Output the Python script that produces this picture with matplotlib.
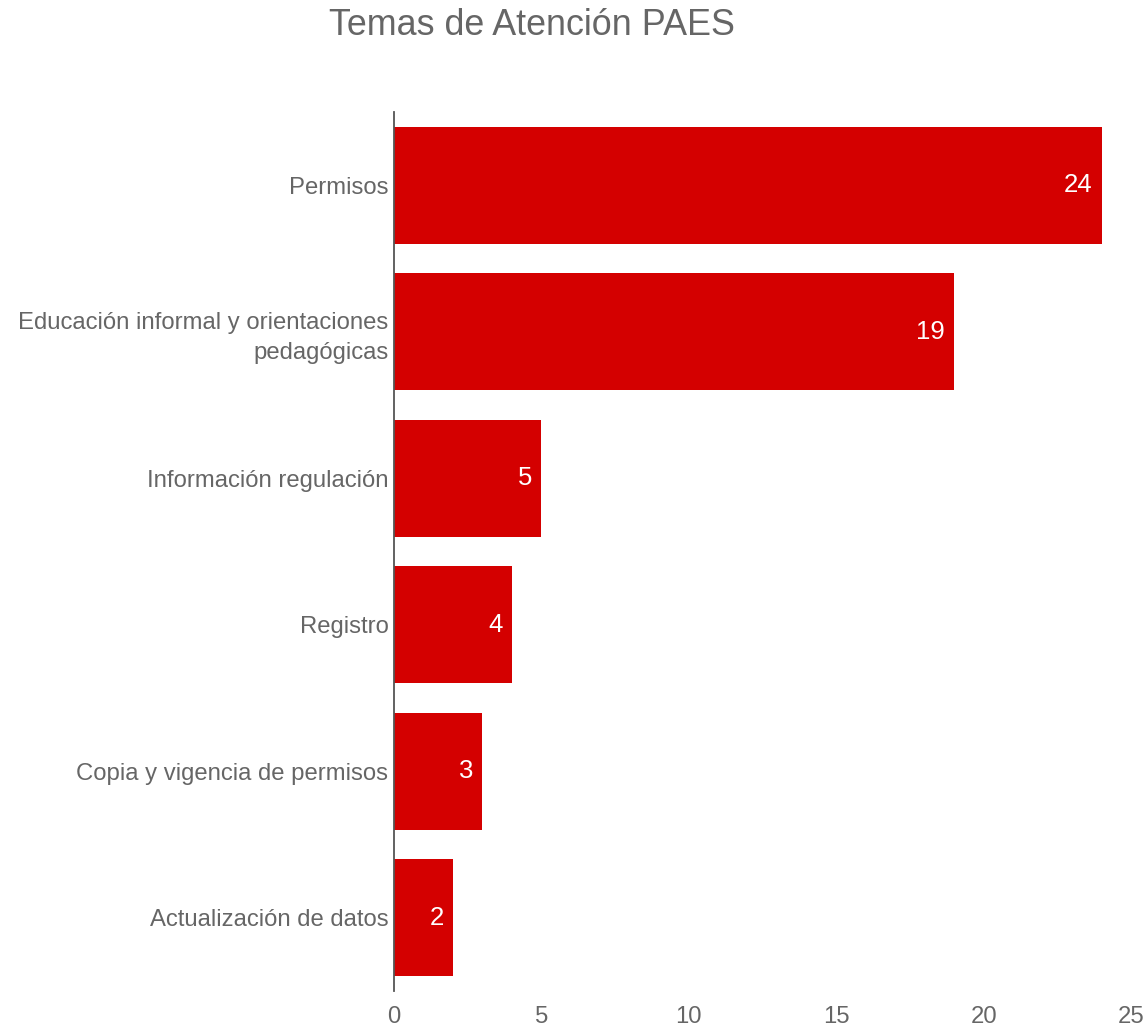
import matplotlib.pyplot as plt

plt.rcParams['font.family'] = ['Liberation Sans', 'DejaVu Sans']

temas = [
    "Permisos",
    "Educación informal y orientaciones\npedagógicas",
    "Información regulación",
    "Registro",
    "Copia y vigencia de permisos",
    "Actualización de datos",
]
valores = [24, 19, 5, 4, 3, 2]

BAR_COLOR = '#d40000'
TEXT_COLOR = '#666666'

fig = plt.figure(figsize=(11.48, 10.29), dpi=100)
ax = fig.add_axes([0.3432, 0.0369, 0.642, 0.8543])

pos = list(range(len(temas)))
bars = ax.barh(pos, valores, height=0.8, color=BAR_COLOR)
ax.set_ylim(len(temas) - 0.5, -0.5)
ax.set_xlim(0, 25)

for b, v in zip(bars, valores):
    ax.annotate(str(v), (b.get_width(), b.get_y() + b.get_height() / 2),
                xytext=(-6.5, 0), textcoords='offset points',
                ha='right', va='center', color='white', fontsize=18.5)

ax.set_yticks(pos)
ax.set_yticklabels(temas, fontsize=17.2, color=TEXT_COLOR, linespacing=1.45)
ax.set_xticks([0, 5, 10, 15, 20, 25])
ax.tick_params(axis='x', labelsize=17.2, labelcolor=TEXT_COLOR, length=0, pad=11)
ax.tick_params(axis='y', length=0, pad=4)

for s in ['top', 'right', 'bottom']:
    ax.spines[s].set_visible(False)
ax.spines['left'].set_color('#555555')
ax.spines['left'].set_linewidth(1.3)

fig.text(0.4634, 0.9755, "Temas de Atención PAES", ha='center', va='center',
         fontsize=25.8, color=TEXT_COLOR)

fig.savefig('out.png', dpi=100)
